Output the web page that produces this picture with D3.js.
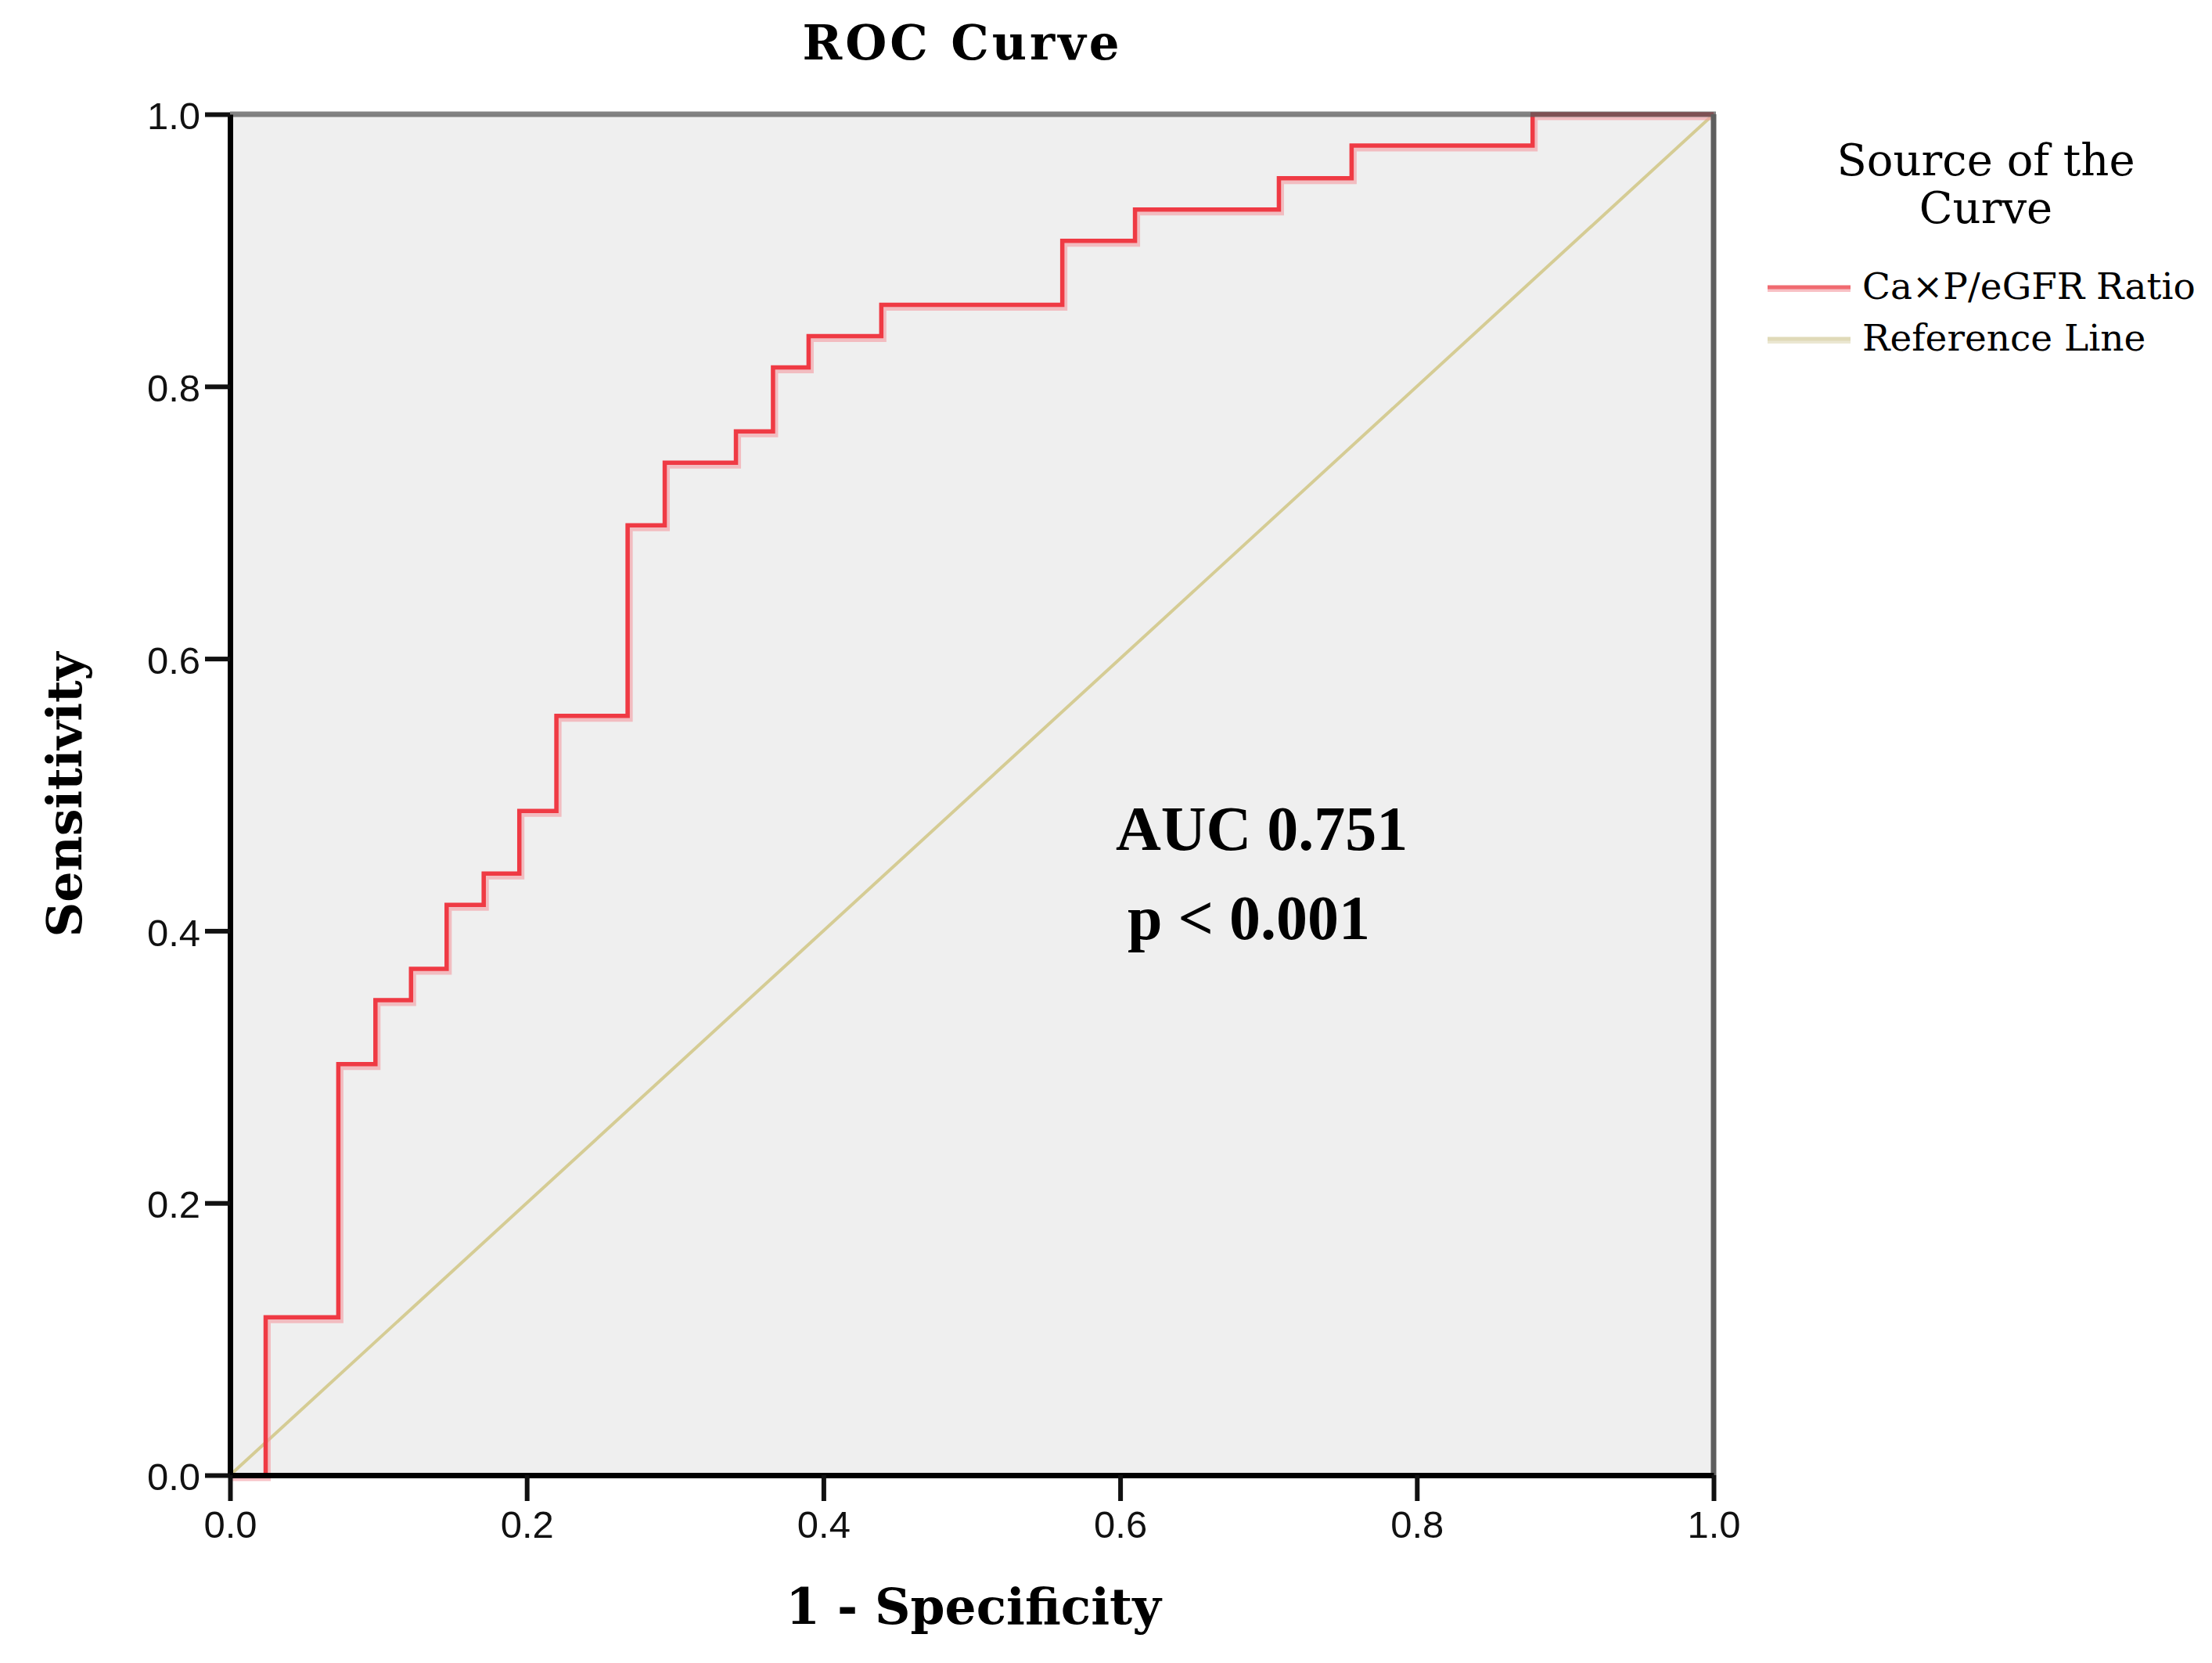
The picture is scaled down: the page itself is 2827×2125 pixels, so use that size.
<!DOCTYPE html>
<html>
<head>
<meta charset="utf-8">
<script src="https://cdn.jsdelivr.net/npm/d3@7"></script>
<style>
  body { margin: 0; background: #fff; }
  svg { display: block; }
</style>
</head>
<body>
<div id="vis"></div>
<script>
    // ROC step points (1 - specificity, sensitivity)
    var fpr = [0, 0.024, 0.073, 0.098, 0.122, 0.146, 0.171, 0.195, 0.220, 0.268, 0.293,
               0.341, 0.366, 0.390, 0.439, 0.561, 0.610, 0.707, 0.756, 0.878, 1.0];
    var tpr = [0, 0.116, 0.302, 0.349, 0.372, 0.419, 0.442, 0.488, 0.558, 0.698, 0.744,
               0.767, 0.814, 0.837, 0.860, 0.907, 0.930, 0.953, 0.977, 1.0, 1.0];
    var refX = [0, 1],
        refY = [0, 1];
    var tickValues = [0, 0.2, 0.4, 0.6, 0.8, 1.0];
    var seriesNames = ["Ca\u00d7P/eGFR Ratio", "Reference Line"];
    var annotations = ["AUC 0.751", "p < 0.001"];

    // note: "top" is window.top in a browser, so plot edges get other names
    var W = 2827, H = 2125,
        pL = 294, pR = 2190, pT = 146, pB = 1885;

    var svg = d3.select("#vis").append("svg").attr("width", W).attr("height", H);

    var x = d3.scaleLinear().domain([0, 1]).range([pL, pR]),
        y = d3.scaleLinear().domain([0, 1]).range([pB, pT]);

    // plot background
    svg.append("rect").attr("x", pL).attr("y", pT)
        .attr("width", pR - pL).attr("height", pB - pT)
        .attr("fill", "#efefef");

    // reference diagonal
    var refLine = d3.line().x(function (d) { return x(d[0]); }).y(function (d) { return y(d[1]); });
    svg.append("path").datum(d3.zip(refX, refY)).attr("d", refLine)
        .attr("fill", "none").attr("stroke", "#d5cc94").attr("stroke-width", 4);

    // ROC step curve, pale fringe + core like the SPSS rendering
    var roc = d3.line().curve(d3.curveStepAfter)
        .x(function (d) { return x(d[0]); }).y(function (d) { return y(d[1]); });
    var rocPts = d3.zip(fpr, tpr);
    svg.append("path").datum(rocPts).attr("d", roc)
        .attr("transform", "translate(2,3)")
        .attr("fill", "none").attr("stroke", "#f2a0a6").attr("stroke-opacity", 0.65).attr("stroke-width", 9);
    svg.append("path").datum(rocPts).attr("d", roc)
        .attr("fill", "none").attr("stroke", "#ef3a44").attr("stroke-width", 5.5);

    // top and right frame (grey), laid over the curve so the top run turns maroon
    svg.append("line").attr("x1", pL).attr("x2", pR + 3).attr("y1", pT).attr("y2", pT)
        .attr("stroke", "#5a5a5a").attr("stroke-opacity", 0.75).attr("stroke-width", 7);
    svg.append("line").attr("x1", pR).attr("x2", pR).attr("y1", pT).attr("y2", pB)
        .attr("stroke", "#5e5e5e").attr("stroke-width", 7);

    // axes
    var fmt = d3.format(".1f");
    var yAxis = d3.axisLeft(y).tickValues(tickValues).tickFormat(fmt)
            .tickSize(32).tickSizeOuter(0).tickPadding(6),
        xAxis = d3.axisBottom(x).tickValues(tickValues).tickFormat(fmt)
            .tickSize(33).tickSizeOuter(0).tickPadding(12);

    var gy = svg.append("g").attr("transform", "translate(" + pL + ",0)").call(yAxis);
    var gx = svg.append("g").attr("transform", "translate(0," + pB + ")").call(xAxis);

    [gx, gy].forEach(function (g) {
        g.select(".domain").attr("stroke", "#000").attr("stroke-width", 7);
        g.selectAll(".tick line").attr("stroke", "#111").attr("stroke-width", 6);
        g.selectAll(".tick text").attr("fill", "#111")
            .style("font-family", "'Liberation Sans', Arial, sans-serif")
            .style("font-size", "49px");
    });
    gy.selectAll(".tick text").attr("dy", "0.38em");

    // titles
    svg.append("text").attr("x", 1230).attr("y", 76).attr("text-anchor", "middle")
        .style("font-family", "'DejaVu Serif', serif").style("font-weight", "bold")
        .style("font-size", "61px").style("letter-spacing", "4px")
        .text("ROC Curve");

    svg.append("text").attr("x", 1244).attr("y", 2075).attr("text-anchor", "middle")
        .style("font-family", "'DejaVu Serif', serif").style("font-weight", "bold")
        .style("font-size", "63px")
        .text("1 - Specificity");

    svg.append("text").attr("transform", "translate(104," + ((pT + pB) / 2) + ") rotate(-90)")
        .attr("text-anchor", "middle")
        .style("font-family", "'DejaVu Serif', serif").style("font-weight", "bold")
        .style("font-size", "62px")
        .text("Sensitivity");

    // AUC annotation
    svg.selectAll(".note").data(annotations).enter().append("text")
        .attr("class", "note")
        .attr("x", function (d, i) { return i === 0 ? 1426 : 1441; })
        .attr("y", function (d, i) { return i === 0 ? 1086 : 1200; })
        .style("font-family", "'Liberation Serif', 'Times New Roman', serif").style("font-weight", "bold")
        .style("font-size", "80px")
        .text(function (d) { return d; });

    // legend
    var legend = svg.append("g");
    legend.append("text").attr("x", 2538).attr("y", 224).attr("text-anchor", "middle")
        .style("font-family", "'DejaVu Serif', serif").style("font-size", "56px").text("Source of the");
    legend.append("text").attr("x", 2538).attr("y", 285).attr("text-anchor", "middle")
        .style("font-family", "'DejaVu Serif', serif").style("font-size", "56px").text("Curve");

    var legendColors = [["#f06a70", "#f8c0c4"], ["#e0dab8", "#ebe7d2"]],
        legendY = [367, 433];

    seriesNames.forEach(function (name, i) {
        legend.append("line").attr("x1", 2259).attr("x2", 2365)
            .attr("y1", legendY[i] + 3).attr("y2", legendY[i] + 3)
            .attr("stroke", legendColors[i][1]).attr("stroke-width", 6);
        legend.append("line").attr("x1", 2259).attr("x2", 2365)
            .attr("y1", legendY[i]).attr("y2", legendY[i])
            .attr("stroke", legendColors[i][0]).attr("stroke-width", 5);
        legend.append("text").attr("x", 2380).attr("y", legendY[i] + 15)
            .style("font-family", "'DejaVu Serif', serif").style("font-size", "47px")
            .text(name);
    });
</script>
</body>
</html>
